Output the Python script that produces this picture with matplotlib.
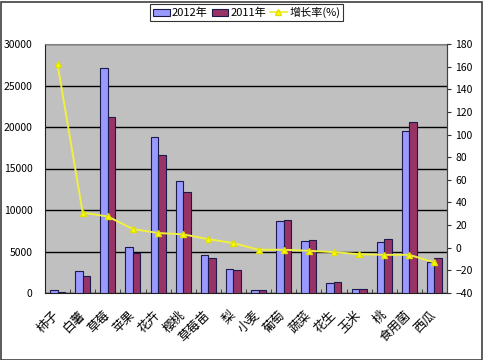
import numpy as np
import matplotlib
matplotlib.use('Agg')
import matplotlib.pyplot as plt
import matplotlib.transforms as mtransforms
from matplotlib.patches import Patch, Rectangle
from matplotlib.lines import Line2D

plt.rcParams['font.family'] = ['Noto Sans CJK SC', 'DejaVu Sans']

crops = ['柿子', '白薯', '草莓', '苹果', '花卉', '樱桃', '草莓苗', '梨',
         '小麦', '葡萄', '蔬菜', '花生', '玉米', '桃', '食用菌', '西瓜']
value_2012 = [400, 2640, 27120, 5560, 18840, 13480, 4560, 2880,
              400, 8640, 6240, 1160, 480, 6160, 19520, 3680]
value_2011 = [100, 2040, 21240, 4800, 16600, 12120, 4200, 2760,
              400, 8760, 6360, 1280, 480, 6480, 20630, 4200]
growth_rate = [162, 31, 27.6, 16.5, 13, 11.8, 7.6, 4.1,
               -1.8, -1.8, -2.7, -3.9, -5.7, -6.3, -6.3, -13]
left_ticks = [0, 5000, 10000, 15000, 20000, 25000, 30000]
right_ticks = list(range(-40, 181, 20))

W, H = 483, 360
fig = plt.figure(figsize=(W / 100, H / 100), dpi=100)
fig.patch.set_facecolor('white')

# chart border
fig.patches.append(Rectangle((0.5 / W, 0.5 / H), 1 - 2 / W, 1 - 2 / H, transform=fig.transFigure,
                             fill=False, edgecolor='#404040', lw=1.2))

ax = fig.add_axes([45 / W, 1 - 293 / H, 402 / W, 249 / H])
ax.set_facecolor('#C0C0C0')
x = np.arange(len(crops))
ax.bar(x - 0.15, value_2012, width=0.3, color='#9999FF', edgecolor='#1a1a4d', lw=0.8, zorder=3)
ax.bar(x + 0.15, value_2011, width=0.3, color='#993366', edgecolor='#1a1a4d', lw=0.8, zorder=3)
ax.set_xlim(-0.5, len(crops) - 0.5)
ax.set_ylim(0, 30000)
ax.set_yticks(left_ticks)
ax.yaxis.grid(True, color='black', lw=1)
ax.set_axisbelow(True)
ax.tick_params(axis='y', length=0, pad=9, labelsize=7.5)
ax.set_xticks(x)
ax.set_xticklabels(crops, rotation=45, ha='right', va='top', fontsize=9,
                   rotation_mode='anchor')
ax.tick_params(axis='x', which='major', length=0, pad=11)
shift = mtransforms.ScaledTranslation(-5 / 100, 0, fig.dpi_scale_trans)
for lab in ax.get_xticklabels():
    lab.set_transform(lab.get_transform() + shift)
ax.set_xticks(np.arange(-0.5, len(crops), 1), minor=True)
ax.tick_params(axis='x', which='minor', direction='in', length=3, color='#303030')
for s in ['left', 'bottom']:
    ax.spines[s].set_color('#202020')
for s in ['top', 'right']:
    ax.spines[s].set_color('#808080')

ax2 = ax.twinx()
ax2.plot(x, growth_rate, color='#F0F040', lw=1.4, marker='^', markersize=5,
         markerfacecolor='#FFFF00', markeredgecolor='#E0E000', zorder=5)
ax2.set_ylim(-40, 180)
ax2.set_yticks(right_ticks)
ax2.tick_params(axis='y', length=3, pad=3, labelsize=7.5, color='#303030')
ax2.spines['right'].set_color('#404040')
for s in ['top', 'left', 'bottom']:
    ax2.spines[s].set_visible(False)

handles = [Patch(facecolor='#9999FF', edgecolor='#1a1a4d', lw=0.8),
           Patch(facecolor='#993366', edgecolor='#1a1a4d', lw=0.8),
           Line2D([], [], color='#F0F040', lw=1.4, marker='^', markersize=4,
                  markerfacecolor='#FFFF00', markeredgecolor='#E0E000')]
leg = fig.legend(handles, ['2012年', '2011年', '增长率(%)'], loc='center',
                 bbox_to_anchor=(246.5 / W, 1 - 12.5 / H), ncol=3, fontsize=8,
                 frameon=True, fancybox=False, edgecolor='black', borderpad=0.3,
                 handlelength=1.5, handleheight=0.6, handletextpad=0.2, columnspacing=0.35,
                 borderaxespad=0)
leg.get_frame().set_linewidth(0.8)

fig.savefig('out.png', dpi=100, facecolor='white')
